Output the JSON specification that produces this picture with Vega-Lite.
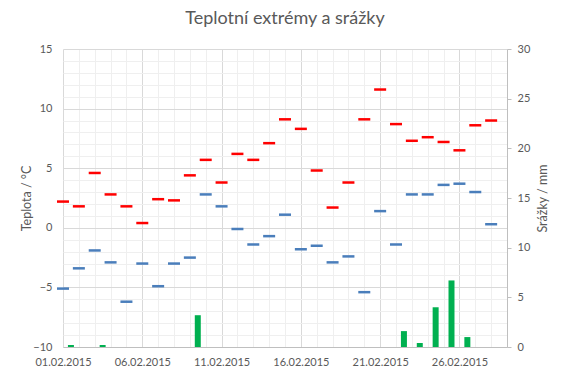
{
  "$schema": "https://vega.github.io/schema/vega-lite/v6.json",
  "width": 444,
  "height": 298,
  "autosize": {"type": "none"},
  "padding": {"left": 63, "top": 49, "right": 60, "bottom": 31},
  "background": "white",
  "title": {
    "text": "Teplotní extrémy a srážky",
    "font": "Lato",
    "fontSize": 18,
    "fontWeight": "normal",
    "color": "#595959",
    "anchor": "middle",
    "offset": 15
  },
  "config": {
    "view": {"stroke": null},
    "axis": {
      "labelFont": "Lato",
      "labelFontSize": 11,
      "labelColor": "#595959",
      "titleFont": "Lato",
      "titleFontSize": 12.5,
      "titleFontWeight": "normal",
      "titleColor": "#595959"
    }
  },
  "data": {
    "values": [
      {"date": "2015-02-01", "max": 2.2, "min": -5.1, "srazky": 0.2},
      {"date": "2015-02-02", "max": 1.8, "min": -3.4, "srazky": 0},
      {"date": "2015-02-03", "max": 4.6, "min": -1.9, "srazky": 0.2},
      {"date": "2015-02-04", "max": 2.8, "min": -2.9, "srazky": 0},
      {"date": "2015-02-05", "max": 1.8, "min": -6.2, "srazky": 0},
      {"date": "2015-02-06", "max": 0.4, "min": -3.0, "srazky": 0},
      {"date": "2015-02-07", "max": 2.4, "min": -4.9, "srazky": 0},
      {"date": "2015-02-08", "max": 2.3, "min": -3.0, "srazky": 0},
      {"date": "2015-02-09", "max": 4.4, "min": -2.5, "srazky": 3.2},
      {"date": "2015-02-10", "max": 5.7, "min": 2.8, "srazky": 0},
      {"date": "2015-02-11", "max": 3.8, "min": 1.8, "srazky": 0},
      {"date": "2015-02-12", "max": 6.2, "min": -0.1, "srazky": 0},
      {"date": "2015-02-13", "max": 5.7, "min": -1.4, "srazky": 0},
      {"date": "2015-02-14", "max": 7.1, "min": -0.7, "srazky": 0},
      {"date": "2015-02-15", "max": 9.1, "min": 1.1, "srazky": 0},
      {"date": "2015-02-16", "max": 8.3, "min": -1.8, "srazky": 0},
      {"date": "2015-02-17", "max": 4.8, "min": -1.5, "srazky": 0},
      {"date": "2015-02-18", "max": 1.7, "min": -2.9, "srazky": 0},
      {"date": "2015-02-19", "max": 3.8, "min": -2.4, "srazky": 0},
      {"date": "2015-02-20", "max": 9.1, "min": -5.4, "srazky": 0},
      {"date": "2015-02-21", "max": 11.6, "min": 1.4, "srazky": 0},
      {"date": "2015-02-22", "max": 8.7, "min": -1.4, "srazky": 1.6},
      {"date": "2015-02-23", "max": 7.3, "min": 2.8, "srazky": 0.4},
      {"date": "2015-02-24", "max": 7.6, "min": 2.8, "srazky": 4.0},
      {"date": "2015-02-25", "max": 7.2, "min": 3.6, "srazky": 6.7},
      {"date": "2015-02-26", "max": 6.5, "min": 3.7, "srazky": 1.0},
      {"date": "2015-02-27", "max": 8.6, "min": 3.0, "srazky": 0},
      {"date": "2015-02-28", "max": 9.0, "min": 0.3, "srazky": 0}
    ]
  },
  "encoding": {
    "x": {
      "field": "date",
      "type": "temporal",
      "title": null,
      "scale": {
        "type": "utc",
        "nice": false,
        "domain": [1422748800000, 1425168000000]
      },
      "axis": {
        "values": [1422748800000, 1422835200000, 1422921600000, 1423008000000, 1423094400000, 1423180800000, 1423267200000, 1423353600000, 1423440000000, 1423526400000, 1423612800000, 1423699200000, 1423785600000, 1423872000000, 1423958400000, 1424044800000, 1424131200000, 1424217600000, 1424304000000, 1424390400000, 1424476800000, 1424563200000, 1424649600000, 1424736000000, 1424822400000, 1424908800000, 1424995200000, 1425081600000],
        "labelExpr": "(utcdate(datum.value) - 1) % 5 === 0 ? utcFormat(datum.value, '%d.%m.%Y') : ''",
        "labelOverlap": false,
        "labelFlush": false,
        "labelPadding": 9,
        "ticks": false,
        "domain": true,
        "domainColor": "#bfbfbf",
        "grid": true,
        "gridColor": {"condition": {"test": "(utcdate(datum.value) - 1) % 5 === 0", "value": "#d9d9d9"}, "value": "#efefef"}
      }
    }
  },
  "layer": [
    {
      "encoding": {
        "y": {
          "field": "max",
          "type": "quantitative",
          "title": "Teplota / °C",
          "scale": {"domain": [-10, 15], "nice": false, "zero": false},
          "axis": {
            "values": [-10, -9, -8, -7, -6, -5, -4, -3, -2, -1, 0, 1, 2, 3, 4, 5, 6, 7, 8, 9, 10, 11, 12, 13, 14, 15],
            "labelExpr": "datum.value % 5 === 0 ? datum.label : ''",
            "labelOverlap": false,
            "labelPadding": 11,
            "ticks": false,
            "domain": false,
            "titlePadding": -1,
            "grid": true,
            "gridColor": {"condition": {"test": "datum.value % 5 === 0", "value": "#d9d9d9"}, "value": "#efefef"}
          }
        }
      },
      "layer": [
        {
          "mark": {"type": "tick", "orient": "horizontal", "size": 12, "thickness": 2.5, "color": "#ff0000", "opacity": 1}
        },
        {
          "mark": {"type": "tick", "orient": "horizontal", "size": 12, "thickness": 2.5, "color": "#4a7ebb", "opacity": 1},
          "encoding": {"y": {"field": "min", "type": "quantitative"}}
        }
      ]
    },
    {
      "mark": {"type": "bar", "width": 6, "color": "#00b050"},
      "encoding": {
        "x": {"field": "date", "type": "temporal", "timeUnit": "utcyearmonthdate", "bandPosition": 0.5},
        "y": {
          "field": "srazky",
          "type": "quantitative",
          "title": "Srážky / mm",
          "scale": {"domain": [0, 30], "nice": false},
          "axis": {
            "orient": "right",
            "values": [0, 5, 10, 15, 20, 25, 30],
            "grid": false,
            "domain": true,
            "domainColor": "#bfbfbf",
            "ticks": true,
            "tickColor": "#bfbfbf",
            "tickSize": 4,
            "labelPadding": 6,
            "titleAngle": 270,
            "titlePadding": 20
          }
        }
      }
    }
  ],
  "resolve": {"scale": {"y": "independent"}, "axis": {"y": "independent"}}
}
